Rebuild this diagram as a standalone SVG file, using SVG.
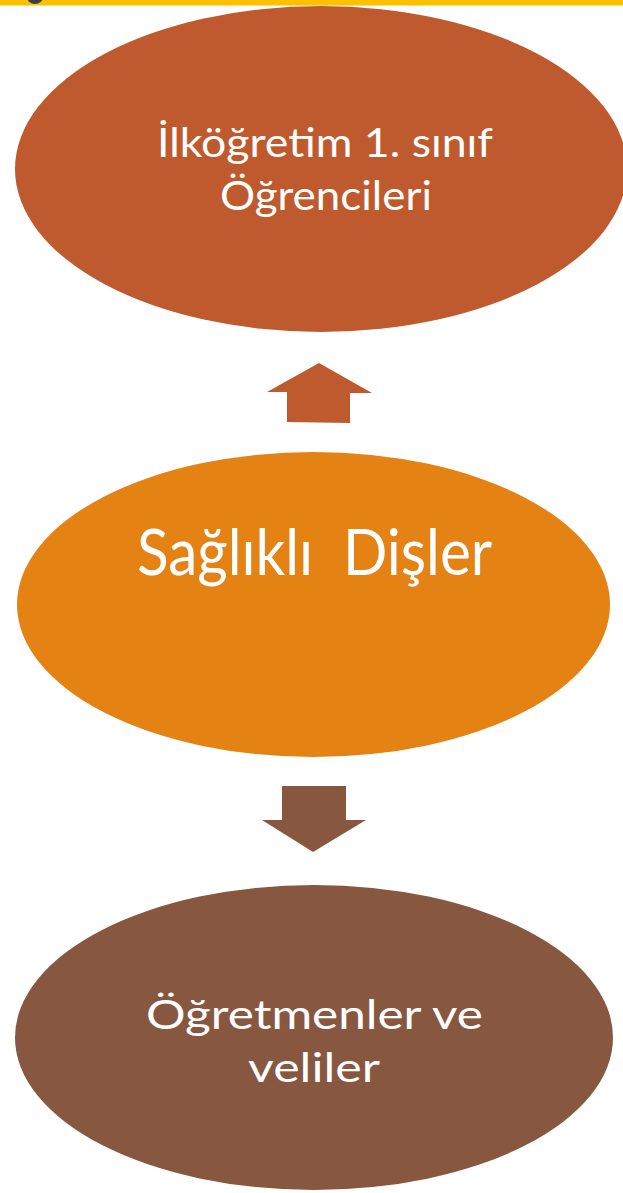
<svg xmlns="http://www.w3.org/2000/svg" width="623" height="1193" viewBox="0 0 623 1193">
  <style>
    .lbl { font-family: Lato, "Open Sans", "DejaVu Sans", sans-serif; font-weight: 400; fill: #ffffff; text-anchor: middle; }
    .s40 { font-size: 40px; }
    .s66 { font-size: 64px; }
  </style>
  <rect id="bg" x="0" y="0" width="623" height="1193" fill="#ffffff"/>
  <rect id="topbar" x="0" y="0" width="623" height="5.5" fill="#FFC000"/>
  <ellipse cx="35" cy="-3" rx="8" ry="7" fill="#404040"/>

  <g id="connectors">
    <polygon id="arrow-up" points="319,363 372,393 350,393 350,423 287,422 287,392 267,392" fill="#BE5A2D"/>
    <polygon id="arrow-down" points="282,786 346,786 346,820 366,820 313,852 262,820 282,820" fill="#87573F"/>
  </g>

  <g id="node-ogrenciler">
    <ellipse cx="321" cy="169" rx="306" ry="163" fill="#BE5A2D"/>
    <text class="lbl s40" x="325" y="157" textLength="336" lengthAdjust="spacingAndGlyphs">İlköğretim 1. sınıf</text>
    <text class="lbl s40" x="326" y="210" textLength="212" lengthAdjust="spacingAndGlyphs">Öğrencileri</text>
  </g>

  <g id="node-saglikli-disler">
    <ellipse cx="313.5" cy="604.5" rx="296.5" ry="152.5" fill="#E48213"/>
    <text class="lbl s66" x="314.5" y="575" textLength="355" lengthAdjust="spacingAndGlyphs" xml:space="preserve">Sağlıklı  Dişler</text>
  </g>

  <g id="node-ogretmenler">
    <ellipse cx="314" cy="1037.5" rx="299" ry="152.5" fill="#87573F"/>
    <text class="lbl s40" x="314.5" y="1029" textLength="337" lengthAdjust="spacingAndGlyphs">Öğretmenler ve</text>
    <text class="lbl s40" x="314" y="1082" textLength="132" lengthAdjust="spacingAndGlyphs">veliler</text>
  </g>
</svg>
